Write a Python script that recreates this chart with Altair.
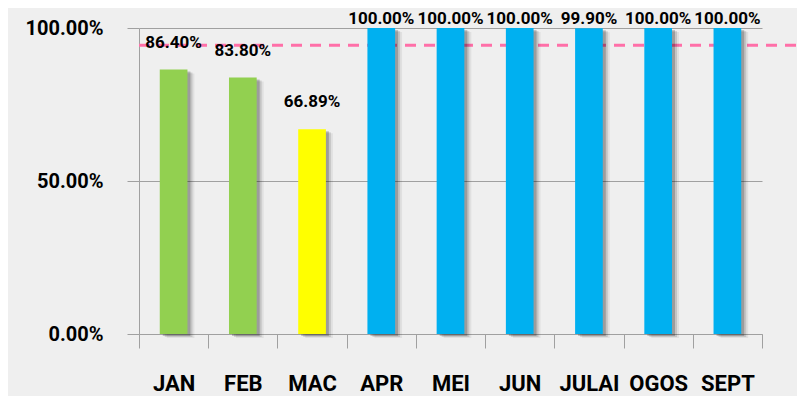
import altair as alt
import pandas as pd

months = ["JAN", "FEB", "MAC", "APR", "MEI", "JUN", "JULAI", "OGOS", "SEPT"]
values = [86.40, 83.80, 66.89, 100.00, 100.00, 100.00, 99.90, 100.00, 100.00]
colors = ["#92d050", "#92d050", "#ffff00", "#00b0f0", "#00b0f0", "#00b0f0",
          "#00b0f0", "#00b0f0", "#00b0f0"]
target = [94.4]
y_ticks = [0, 50, 100]

FONT = "Roboto, DejaVu Sans Condensed, sans-serif"

df = pd.DataFrame({"month": months, "v": values, "c": colors})
tdf = pd.DataFrame({"t": target})

W, H = 623, 306

x_enc = alt.X("month:N", sort=months,
              scale=alt.Scale(paddingInner=0, paddingOuter=0),
              axis=alt.Axis(title=None, labelAngle=0, tickBand="extent",
                            tickSize=14, tickColor="#a0a0a0", domainColor="#a0a0a0",
                            labelFont=FONT, labelFontSize=22, labelFontWeight="bold",
                            labelColor="#000000", labelBaseline="middle",
                            labelPadding=35, grid=False))
y_scale = alt.Scale(domain=[0, 100], nice=False)
y_enc = alt.Y("v:Q", scale=y_scale,
              axis=alt.Axis(title=None, values=y_ticks,
                            labelExpr="format(datum.value, '.2f') + '%'",
                            tickSize=12, tickColor="#a0a0a0", domainColor="#a0a0a0",
                            grid=True, gridColor="#a0a0a0", gridWidth=1,
                            labelFont=FONT, labelFontSize=20, labelFontWeight="bold",
                            labelColor="#000000", labelPadding=24))

base = alt.Chart(df)

rule = alt.Chart(tdf).mark_rule(color="#ff6fa8", strokeWidth=3, strokeDash=[11, 8]).encode(
    y=alt.Y("t:Q", scale=y_scale),
    x=alt.value(0), x2=alt.value(W + 35))

shadows = [
    base.mark_bar(width=alt.RelativeBandSize(0.4), xOffset=off, yOffset=yo,
                  color="#000000", opacity=op).encode(x=x_enc, y=y_enc)
    for off, yo, op in [(7, 4, 0.06), (5, 3, 0.12), (3, 2, 0.2)]
]

bars = base.mark_bar(width=alt.RelativeBandSize(0.4)).encode(
    x=x_enc, y=y_enc, color=alt.Color("c:N", scale=None))

labels = base.transform_calculate(
    ly="min(datum.v, 94.2)",
    lt="format(datum.v, '.2f') + '%'"
).mark_text(font=FONT, fontSize=17, fontWeight="bold", color="#000000",
            baseline="bottom", dy=-18).encode(
    x=x_enc, y=alt.Y("ly:Q", scale=y_scale), text="lt:N")

chart = alt.layer(rule, *shadows, bars, labels).properties(
    width=W, height=H,
    autosize=alt.AutoSizeParams(type="none"),
    padding={"left": 131, "top": 20, "right": 35, "bottom": 62},
    background="#efefef",
).configure_view(stroke=None)

chart.save("out.html", embed_options={"renderer": "svg", "actions": False})
